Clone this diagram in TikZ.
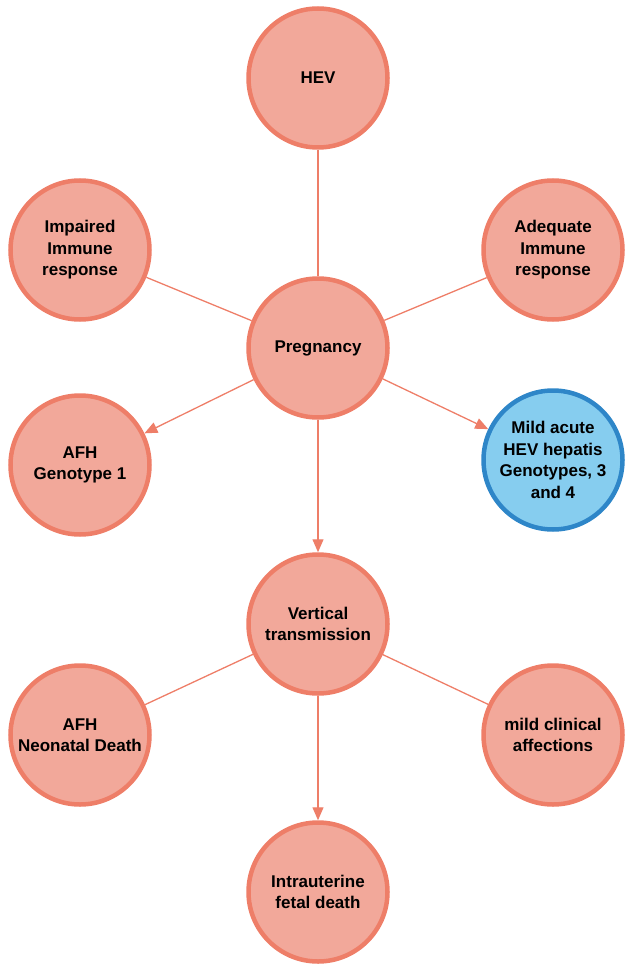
\documentclass[tikz,border=0pt]{standalone}
\usepackage{fontspec}
\setmainfont{Liberation Sans}
\usetikzlibrary{arrows.meta}
\definecolor{sfill}{HTML}{F2A89A}
\definecolor{sline}{HTML}{EE7E68}
\definecolor{bfill}{HTML}{86CDEF}
\definecolor{bline}{HTML}{2E86C8}
\tikzset{
  bubble/.style={circle, draw=sline, fill=sfill, line width=4.5pt, minimum size=139pt, inner sep=0pt, align=center, font=\fontsize{17}{21.5}\selectfont\bfseries, text=black},
  bluebubble/.style={bubble, draw=bline, fill=bfill},
  link/.style={draw=sline, line width=1.3pt},
  arr/.style={link, -{Triangle[length=13pt,width=11pt]}}
}
\begin{document}
\begin{tikzpicture}[x=1pt,y=-1pt]
\useasboundingbox (0,0) rectangle (625,968);
\node[bubble] (hev) at (318,78) {HEV};
\node[bubble] (imp) at (80,250) {Impaired\\Immune\\response};
\node[bubble] (ade) at (553,250) {Adequate\\Immune\\response};
\node[bubble] (preg) at (318,348) {Pregnancy};
\node[bubble] (afh1) at (80,465) {AFH\\Genotype 1};
\node[bluebubble] (mild) at (553,460) {Mild acute\\HEV hepatis\\Genotypes, 3\\and 4};
\node[bubble] (vert) at (318,624) {Vertical\\transmission};
\node[bubble] (neo) at (80,735) {AFH\\Neonatal Death};
\node[bubble] (clin) at (553,735) {mild clinical\\affections};
\node[bubble] (intra) at (318,892) {Intrauterine\\fetal death};
\draw[link] (hev) -- (preg);
\draw[link] (imp) -- (preg);
\draw[link] (ade) -- (preg);
\draw[arr] (preg) -- (afh1);
\draw[arr] (preg) -- (mild);
\draw[arr] (preg) -- (vert);
\draw[link] (vert) -- (neo);
\draw[link] (vert) -- (clin);
\draw[arr] (vert) -- (intra);
\end{tikzpicture}
\end{document}
